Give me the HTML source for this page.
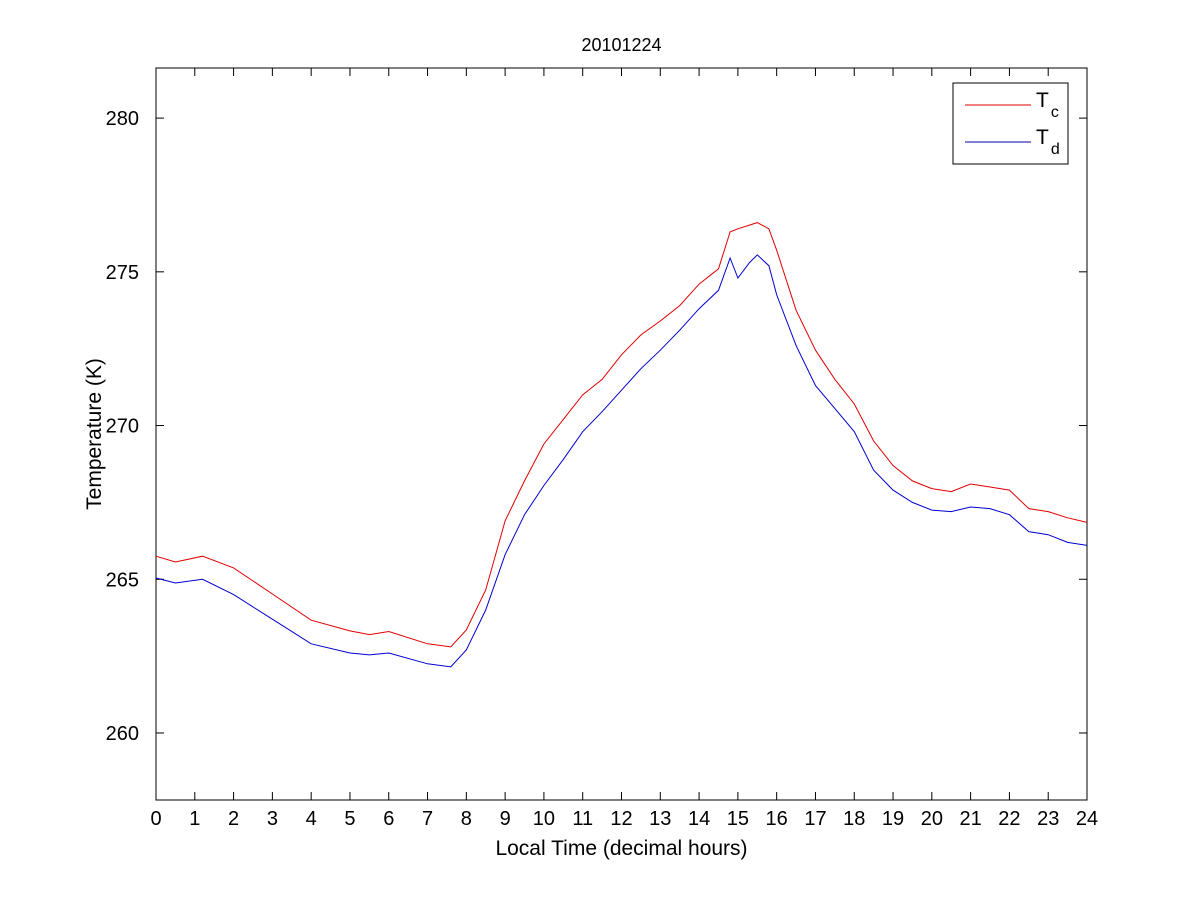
<!DOCTYPE html>
<html><head><meta charset="utf-8"><style>
body{margin:0;background:#fff;}
svg{display:block;font-family:"Liberation Sans",sans-serif;}
</style></head><body>
<svg id="chart" width="1201" height="900">
<rect x="0" y="0" width="1201" height="900" fill="#fff"/>
</svg>
<script>
const hours=[0,0.5,1.2,2,3,4,5,5.5,6,7,7.6,8,8.5,9,9.5,10,10.5,11,11.5,12,12.5,13,13.5,14,14.5,14.8,15,15.5,15.8,16,16.5,17,17.5,18,18.5,19,19.5,20,20.5,21,21.5,22,22.5,23,23.5,24];
const tc=[265.75,265.56,265.75,265.37,264.52,263.67,263.32,263.2,263.3,262.9,262.8,263.35,264.65,266.9,268.2,269.4,270.2,271.0,271.5,272.3,272.95,273.4,273.9,274.6,275.1,276.3,276.4,276.6,276.4,275.7,273.75,272.45,271.5,270.7,269.5,268.7,268.2,267.95,267.85,268.1,268.0,267.9,267.3,267.2,267.0,266.85];
const tdHours=[0,0.5,1.2,2,3,4,5,5.5,6,7,7.6,8,8.5,9,9.5,10,10.5,11,11.5,12,12.5,13,13.5,14,14.5,14.8,15,15.3,15.5,15.8,16,16.5,17,17.5,18,18.5,19,19.5,20,20.5,21,21.5,22,22.5,23,23.5,24];
const td=[265.04,264.88,265.0,264.5,263.7,262.9,262.6,262.54,262.6,262.25,262.15,262.7,264.0,265.8,267.1,268.05,268.9,269.8,270.45,271.15,271.85,272.45,273.1,273.8,274.4,275.45,274.8,275.3,275.55,275.2,274.25,272.6,271.3,270.55,269.8,268.55,267.9,267.5,267.25,267.2,267.35,267.3,267.1,266.55,266.45,266.2,266.1];
const xTicks=[0,1,2,3,4,5,6,7,8,9,10,11,12,13,14,15,16,17,18,19,20,21,22,23,24];
const yTicks=[260,265,270,275,280];

const L=156,R=1087,T=68,B=800;
const xMin=0,xMax=24,yMin=257.82,yMax=281.63;
const sx=v=>L+(v-xMin)/(xMax-xMin)*(R-L);
const sy=v=>B-(v-yMin)/(yMax-yMin)*(B-T);
const svg=document.getElementById('chart');
const NS='http://www.w3.org/2000/svg';
function mk(tag,attrs){const e=document.createElementNS(NS,tag);for(const k in attrs)e.setAttribute(k,attrs[k]);svg.appendChild(e);return e;}

const frame=mk('rect',{x:L,y:T,width:R-L,height:B-T,fill:'#fff',stroke:'#000','stroke-width':1});



xTicks.forEach(t=>{
  const x=sx(t);
  const a=mk('line',{x1:x,x2:x,y1:B,y2:B-8,stroke:'#000'});
  
  
  const b=mk('line',{x1:x,x2:x,y1:T,y2:T+8,stroke:'#000'});
  
  
  const lb=mk('text',{x:x,y:B+25,'text-anchor':'middle','font-size':20});
  lb.textContent=t;
  
  
});
yTicks.forEach(t=>{
  const y=sy(t);
  const a=mk('line',{x1:L,x2:L+8,y1:y,y2:y,stroke:'#000'});
  
  
  const b=mk('line',{x1:R,x2:R-8,y1:y,y2:y,stroke:'#000'});
  
  
  const lb=mk('text',{x:L-17,y:y+7,'text-anchor':'end','font-size':20});
  lb.textContent=t;
  
  
});

function line(xs,ys,color,name){
  const d=xs.map((h,i)=>(i?'L':'M')+sx(h).toFixed(1)+','+sy(ys[i]).toFixed(1)).join(' ');
  const p=mk('path',{d:d,fill:'none',stroke:color,'stroke-width':1});
  
  
}
line(hours,tc,'#e00000','tc-line');
line(tdHours,td,'#0000d0','td-line');

const title=mk('text',{x:(L+R)/2,y:51,'text-anchor':'middle','font-size':18});
title.textContent='20101224';


const xt=mk('text',{x:(L+R)/2,y:855,'text-anchor':'middle','font-size':21});
xt.textContent='Local Time (decimal hours)';


const yt=mk('text',{x:0,y:0,'text-anchor':'middle','font-size':21,transform:'translate(101,434) rotate(-90)'});
yt.textContent='Temperature (K)';



const lg=mk('rect',{x:953,y:83,width:115,height:81,fill:'#fff',stroke:'#000'});


const l1=mk('line',{x1:965,x2:1031,y1:105,y2:105,stroke:'#e00000'});


const l2=mk('line',{x1:965,x2:1031,y1:142,y2:142,stroke:'#0000a0'});


const t1=mk('text',{x:1036,y:107,'font-size':21});
t1.innerHTML='T<tspan font-size="16" dx="2" dy="10">c</tspan>';


const t2=mk('text',{x:1036,y:144,'font-size':21});
t2.innerHTML='T<tspan font-size="16" dx="2" dy="10">d</tspan>';


</script>
</body></html>
